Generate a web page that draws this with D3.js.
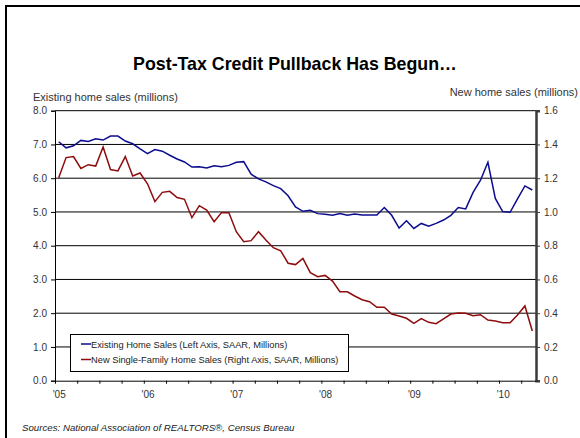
<!DOCTYPE html>
<html>
<head>
<meta charset="utf-8">
<script src="https://cdn.jsdelivr.net/npm/d3@7"></script>
<style>
  body { margin: 0; background: #fff; }
  svg { display: block; font-family: "Liberation Sans", Arial, sans-serif; }
</style>
</head>
<body>
<div id="chart"></div>
<script>
// monthly data, Jan 2005 .. May 2010
var existingSales = [7.08, 6.90, 6.96, 7.12, 7.09, 7.17, 7.13, 7.25, 7.25, 7.10, 7.02, 6.87,
  6.73, 6.85, 6.80, 6.68, 6.57, 6.48, 6.33, 6.34, 6.30, 6.37, 6.34, 6.38,
  6.47, 6.49, 6.12, 5.98, 5.89, 5.78, 5.69, 5.48, 5.15, 5.02, 5.05, 4.95,
  4.93, 4.90, 4.95, 4.90, 4.94, 4.91, 4.91, 4.91, 5.13, 4.90, 4.52, 4.74,
  4.51, 4.66, 4.58, 4.66, 4.76, 4.90, 5.13, 5.09, 5.58, 5.94, 6.47, 5.40,
  5.01, 4.99, 5.39, 5.77, 5.65];
var newSales = [1.203, 1.322, 1.328, 1.258, 1.280, 1.272, 1.385, 1.251, 1.243, 1.328, 1.213, 1.231,
  1.167, 1.061, 1.116, 1.122, 1.085, 1.075, 0.966, 1.037, 1.011, 0.942, 0.996, 0.996,
  0.883, 0.824, 0.830, 0.883, 0.834, 0.788, 0.770, 0.696, 0.688, 0.725, 0.640, 0.616,
  0.624, 0.590, 0.527, 0.527, 0.502, 0.480, 0.468, 0.435, 0.435, 0.395, 0.383, 0.370,
  0.340, 0.368, 0.346, 0.338, 0.366, 0.395, 0.401, 0.399, 0.385, 0.391, 0.359, 0.354,
  0.344, 0.344, 0.389, 0.443, 0.295];
var yearLabels = ["'05", "'06", "'07", "'08", "'09", "'10"];
var leftTicks = [0, 1, 2, 3, 4, 5, 6, 7, 8];
var rightTicks = [0, 0.2, 0.4, 0.6, 0.8, 1.0, 1.2, 1.4, 1.6];
var seriesNames = ['Existing Home Sales (Left Axis, SAAR, Millions)',
  'New Single-Family Home Sales (Right Axis, SAAR, Millions)'];

var width = 580, height = 438;
var plot = {left: 55, right: 536, top: 110.7, bottom: 380.7};
var blue = '#0c0c8e', red = '#8e0c0c';

var svg = d3.select('#chart').append('svg')
    .attr('width', width)
    .attr('height', height);

// outer frame (only top/left visible)
svg.append('rect')
    .attr('x', 6).attr('y', 6)
    .attr('width', 700).attr('height', 600)
    .attr('fill', 'none').attr('stroke', '#000').attr('stroke-width', 2);

var n = existingSales.length;
var x = d3.scaleLinear().domain([-0.5, n - 0.5]).range([plot.left, plot.right]);
var yL = d3.scaleLinear().domain([0, 8]).range([plot.bottom, plot.top]);
var yR = d3.scaleLinear().domain([0, 1.6]).range([plot.bottom, plot.top]);

// title
svg.append('text')
    .attr('x', 295).attr('y', 70)
    .attr('text-anchor', 'middle')
    .style('font-size', '17.8px').style('font-weight', 'bold')
    .text('Post-Tax Credit Pullback Has Begun…');

svg.append('text')
    .attr('x', 33).attr('y', 101)
    .style('font-size', '11px').attr('fill', '#333')
    .text('Existing home sales (millions)');

svg.append('text')
    .attr('x', 578).attr('y', 96)
    .attr('text-anchor', 'end')
    .style('font-size', '11px').attr('fill', '#333')
    .text('New home sales (millions)');

// gridlines
svg.append('g').selectAll('line')
    .data(leftTicks.slice(1))
    .join('line')
    .attr('x1', plot.left).attr('x2', plot.right)
    .attr('y1', d => yL(d)).attr('y2', d => yL(d))
    .attr('stroke', '#000').attr('stroke-width', 1);

// left axis
var leftAxis = svg.append('g')
    .attr('transform', `translate(${plot.left},0)`)
    .call(d3.axisLeft(yL).tickValues(leftTicks).tickFormat(d3.format('.1f')).tickSize(4).tickPadding(4));

// right axis
var rightAxis = svg.append('g')
    .attr('transform', `translate(${plot.right},0)`)
    .call(d3.axisRight(yR).tickValues(rightTicks).tickFormat(d3.format('.1f')).tickSize(4).tickPadding(4));

// x axis: quarterly ticks, year labels
var qTicks = d3.range(-0.5, n - 0.5, 3);
var xAxis = svg.append('g')
    .attr('transform', `translate(0,${plot.bottom})`)
    .call(d3.axisBottom(x).tickValues(qTicks).tickFormat('').tickSize(3).tickSizeOuter(0));

var xLabels = svg.append('g')
    .attr('transform', `translate(0,${plot.bottom})`)
    .call(d3.axisBottom(x).tickValues(yearLabels.map((d, i) => i * 12))
        .tickFormat((d, i) => yearLabels[i]).tickSize(0).tickPadding(10));
xLabels.select('.domain').remove();

[leftAxis, rightAxis, xAxis, xLabels].forEach(g => {
    g.selectAll('text').style('font-size', '10px').attr('fill', '#333')
        .style('font-family', '"Liberation Sans", Arial, sans-serif');
});
leftAxis.select('.domain').attr('stroke', '#000');
rightAxis.select('.domain').attr('stroke', '#3a3a3a').attr('stroke-width', 2.5);
rightAxis.selectAll('.tick line').attr('stroke', '#3a3a3a');

// lines
var lineL = d3.line().x((d, i) => x(i)).y(d => yL(d));
var lineR = d3.line().x((d, i) => x(i)).y(d => yR(d));

svg.append('path').datum(existingSales)
    .attr('d', lineL).attr('fill', 'none')
    .attr('stroke', blue).attr('stroke-width', 1.5);

svg.append('path').datum(newSales)
    .attr('d', lineR).attr('fill', 'none')
    .attr('stroke', red).attr('stroke-width', 1.5);

// legend
var legend = svg.append('g');
legend.append('rect')
    .attr('x', 70.5).attr('y', 334.5)
    .attr('width', 278).attr('height', 37)
    .attr('fill', '#fff').attr('stroke', '#000');

seriesNames.forEach((name, i) => {
    var ly = 344 + i * 15.5;
    legend.append('line')
        .attr('x1', 81).attr('x2', 91)
        .attr('y1', ly).attr('y2', ly)
        .attr('stroke', i ? red : blue).attr('stroke-width', 1.5);
    legend.append('text')
        .attr('x', 91).attr('y', ly + 3.5)
        .style('font-size', '9.3px').attr('fill', '#222')
        .text(name);
});

// source
svg.append('text')
    .attr('x', 22).attr('y', 431)
    .style('font-size', '9.7px').style('font-style', 'italic').attr('fill', '#222')
    .text('Sources: National Association of REALTORS®, Census Bureau');
</script>
</body>
</html>
